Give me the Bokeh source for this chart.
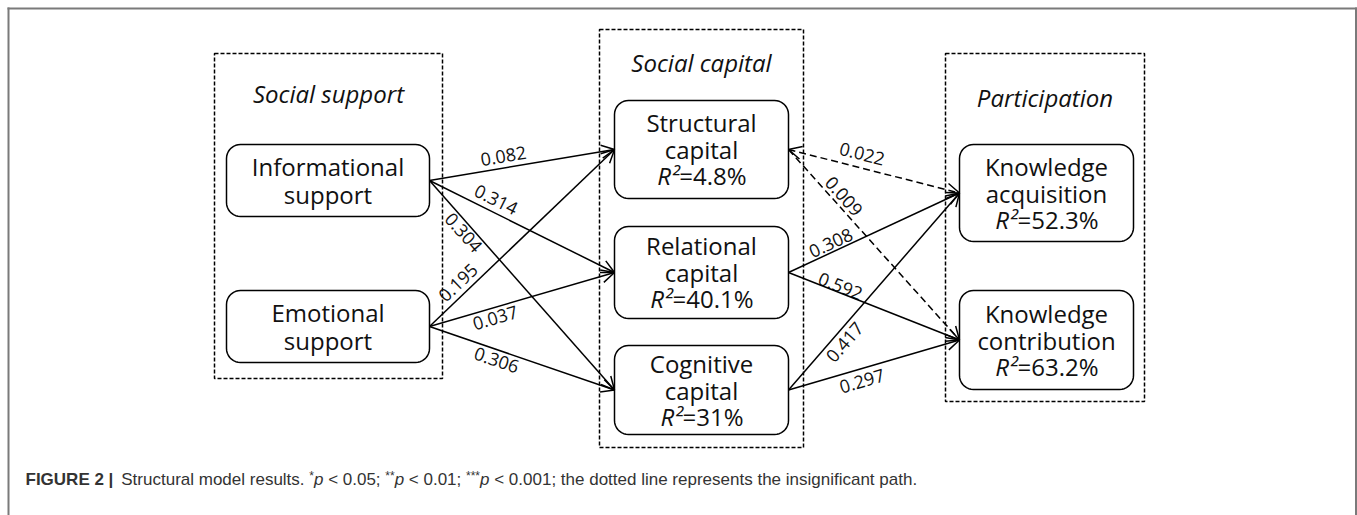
import numpy as np
from bokeh.plotting import figure
from bokeh.models import ColumnDataSource, Range1d, Arrow, OpenHead
from bokeh.core.properties import value
from bokeh.embed import file_html
from bokeh.resources import INLINE

# ---------------- data ----------------
group_names = ["Social support", "Social capital", "Participation"]
node_lines = [["Informational", "support"], ["Emotional", "support"],
              ["Structural", "capital"], ["Relational", "capital"], ["Cognitive", "capital"],
              ["Knowledge", "acquisition"], ["Knowledge", "contribution"]]
r_squared = [None, None, "4.8%", "40.1%", "31%", "52.3%", "63.2%"]
path_from = [0, 0, 0, 1, 1, 1, 2, 2, 3, 3, 4, 4]
path_to = [2, 3, 4, 2, 3, 4, 5, 6, 5, 6, 5, 6]
path_coef = [0.082, 0.314, 0.304, 0.195, 0.037, 0.306, 0.022, 0.009, 0.308, 0.592, 0.417, 0.297]
path_significant = [True, True, True, True, True, True, False, False, True, True, True, True]
caption_segments = [("FIGURE 2 |", "bold"), (" Structural model results. ", "normal"),
                    ("*", "sup"), ("p", "italic"), (" < 0.05; ", "normal"),
                    ("**", "sup"), ("p", "italic"), (" < 0.01; ", "normal"),
                    ("***", "sup"), ("p", "italic"),
                    (" < 0.001; the dotted line represents the insignificant path.", "normal")]

# ---------------- layout (page-pixel coordinates) ----------------
node_box = [(226, 429, 144, 216), (226, 429, 290, 362),
            (614, 788, 100, 198), (614, 788, 226, 318), (614, 788, 345, 434),
            (959, 1133, 144, 241), (959, 1133, 290, 389)]
group_box = [(214, 442, 53, 378), (599, 803, 29, 447), (945, 1144, 53, 401)]
group_title_y = [93, 62, 97]
label_t = [0.41, 0.33, 0.22, 0.20, 0.34, 0.38, 0.41, 0.28, 0.27, 0.29, 0.28, 0.41]
label_off = [12, 12.5, -9, 12, -10, -10, 14, 10, 9, 6.5, -11, -12]
head_at_source = [False] * 6 + [True, False] + [False] * 4

W, H = 1357, 515
p = figure(width=W, height=H, x_range=Range1d(0, W), y_range=Range1d(H, 0),
           output_backend="svg", toolbar_location=None, min_border=0)
p.axis.visible = False
p.grid.visible = False
p.outline_line_color = None
p.background_fill_color = "white"
p.border_fill_color = "white"

# outer frame (top, left, right)
p.multi_line(xs=[[7, 1357], [8, 8], [1355.5, 1355.5]], ys=[[8, 8], [7, 515], [7, 515]],
             line_color="#7a7a7a", line_width=2)

# group dashed boxes
p.quad(left=[g[0] for g in group_box], right=[g[1] for g in group_box],
       top=[g[2] for g in group_box], bottom=[g[3] for g in group_box],
       fill_color=None, line_color="black", line_width=1.5, line_dash="4 2")
p.text(x=[(g[0] + g[1]) / 2 for g in group_box], y=group_title_y, text=group_names,
       text_font=value("Open Sans"), text_font_style="italic", text_font_size="24px",
       text_align="center", text_baseline="middle", text_color="#111111")


def rounded(l, r, t, b, rad=14, n=10):
    xs, ys = [], []
    corners = [(r - rad, t + rad, -np.pi / 2, 0), (r - rad, b - rad, 0, np.pi / 2),
               (l + rad, b - rad, np.pi / 2, np.pi), (l + rad, t + rad, np.pi, 1.5 * np.pi)]
    for cx, cy, a0, a1 in corners:
        a = np.linspace(a0, a1, n)
        xs.extend(cx + rad * np.cos(a))
        ys.extend(cy + rad * np.sin(a))
    return xs, ys


bx, by = [], []
for (l, r, t, b) in node_box:
    xx, yy = rounded(l, r, t, b)
    bx.append(xx)
    by.append(yy)
p.patches(xs=bx, ys=by, fill_color="white", line_color="black", line_width=1.5)

# node texts
FS = 24
ow_tbl = {str(d): 0.572 for d in range(10)}
ow_tbl.update({'.': 0.266, '%': 0.846, '=': 0.572})


def ow(s):
    return sum(ow_tbl.get(c, 0.57) for c in s) * FS


tx, ty, tt = [], [], []
rx, ry, rt, qx, qt = [], [], [], [], []
for i, (l, r, t, b) in enumerate(node_box):
    cx, cy = (l + r) / 2, (t + b) / 2
    if r_squared[i] is None:
        ys_ = [cy - 14, cy + 14]
    else:
        ys_ = [cy - 27, cy]
        rest = "=" + r_squared[i]
        wr2 = 0.98 * FS
        total = wr2 + ow(rest)
        anchor = cx - total / 2 + wr2
        rx.append(anchor); ry.append(cy + 26); rt.append("R²")
        qx.append(anchor); qt.append(rest)
    for line, yy in zip(node_lines[i], ys_):
        tx.append(cx); ty.append(yy); tt.append(line)
p.text(x=tx, y=ty, text=tt, text_font=value("Open Sans"), text_font_size=f"{FS}px",
       text_align="center", text_baseline="middle", text_color="#111111")
p.text(x=rx, y=ry, text=rt, text_font=value("Open Sans"), text_font_style="italic",
       text_font_size=f"{FS}px", text_align="right", text_baseline="middle", text_color="#111111")
p.text(x=qx, y=ry, text=qt, text_font=value("Open Sans"),
       text_font_size=f"{FS}px", text_align="left", text_baseline="middle", text_color="#111111")

# paths
groups = {}
lx, ly, la, lt = [], [], [], []
for k in range(len(path_coef)):
    s, e = node_box[path_from[k]], node_box[path_to[k]]
    x0, y0 = s[1], (s[2] + s[3]) / 2
    x1, y1 = e[0], (e[2] + e[3]) / 2
    key = (path_significant[k], head_at_source[k])
    g = groups.setdefault(key, dict(x0=[], y0=[], x1=[], y1=[]))
    g["x0"].append(x0); g["y0"].append(y0); g["x1"].append(x1); g["y1"].append(y1)
    dx, dy = x1 - x0, y1 - y0
    L = np.hypot(dx, dy)
    d = np.array([dx, dy]) / L
    nrm = np.array([d[1], -d[0]])
    pos = np.array([x0, y0]) + d * label_t[k] * L + nrm * label_off[k]
    lx.append(pos[0]); ly.append(pos[1]); la.append(np.arctan2(-dy, dx))
    lt.append(f"{path_coef[k]:.3f}")

for (sig, both), g in groups.items():
    kw = dict(line_width=1.5, line_color="black",
              end=OpenHead(size=13, line_width=1.5, line_color="black"))
    if not sig:
        kw["line_dash"] = "7 4"
    if both:
        kw["start"] = OpenHead(size=13, line_width=1.5, line_color="black")
    p.add_layout(Arrow(source=ColumnDataSource(g), x_start="x0", y_start="y0",
                       x_end="x1", y_end="y1", **kw))

p.text(x=lx, y=ly, text=lt, angle=la, text_font=value("Open Sans"), text_font_size="18px",
       text_align="center", text_baseline="middle", text_color="#111111")

# caption
CFS = 17
arial = {' ': 278, '%': 889, '*': 389, '.': 278, ';': 278, '<': 584, '=': 584, '|': 260}
arial.update({str(dd): 556 for dd in range(10)})
arial.update(dict(zip("ABCDEFGHIJKLMNOPQRSTUVWXYZ",
                      [667, 667, 722, 722, 667, 611, 778, 722, 278, 500, 667, 556, 833, 722, 778, 667, 778, 722,
                       667, 611, 722, 667, 944, 667, 667, 611])))
arial.update(dict(zip("abcdefghijklmnopqrstuvwxyz",
                      [556, 556, 500, 556, 556, 278, 556, 556, 222, 222, 500, 222, 833, 556, 556, 556, 556, 333,
                       500, 278, 556, 500, 722, 500, 500, 500])))


def aw(s, fs, bold=False):
    w = sum(arial.get(c, 556) for c in s) / 1000 * fs
    return w * (1.04 if bold else 1.0)


cx_, cy_, ct, cst, csz = [], [], [], [], []
x = 25
CY = 479
for txt, style in caption_segments:
    fs = 12 if style == "sup" else CFS
    lead = len(txt) - len(txt.lstrip(" "))
    x += aw(" " * lead, fs)
    core = txt.strip(" ")
    cx_.append(x)
    cy_.append(CY - 4 if style == "sup" else CY)
    ct.append(core)
    cst.append("bold" if style == "bold" else ("italic" if style == "italic" else "normal"))
    csz.append(f"{fs}px")
    x += aw(core, fs, style == "bold")
    x += aw(" " * (len(txt) - len(txt.rstrip(" "))), fs)
p.text(x=cx_, y=cy_, text=ct, text_font=value("Liberation Sans"), text_font_style=cst,
       text_font_size=csz, text_align="left", text_baseline="middle", text_color="#333333")

open("out.html", "w").write(file_html(p, INLINE))
